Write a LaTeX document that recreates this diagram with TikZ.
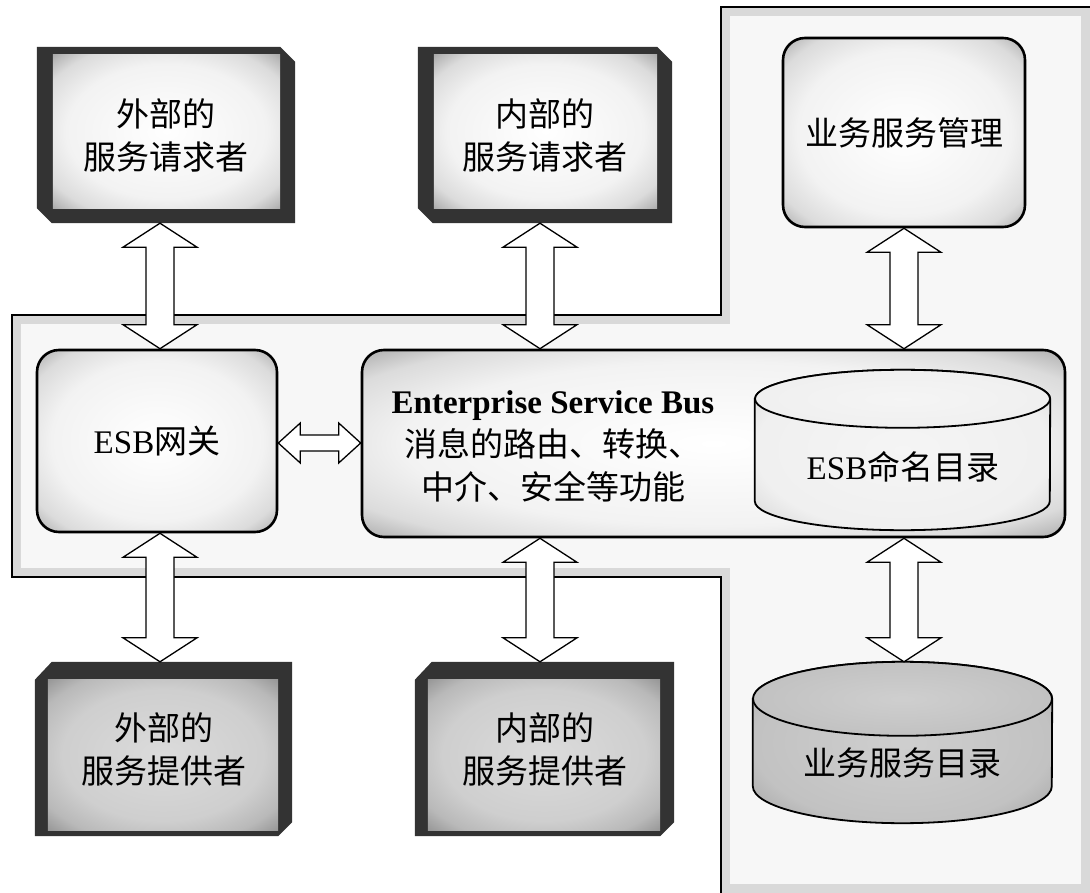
\documentclass[tikz,border=0pt]{standalone}
\usepackage{fontspec}
\setmainfont{Liberation Serif}
\newfontfamily\cjk{Noto Sans CJK SC}
\usetikzlibrary{calc,backgrounds}
\pgfdeclareradialshading{rimlight}{\pgfpoint{0bp}{0bp}}{color(0bp)=(white); color(22bp)=(gray!10); color(30bp)=(gray!28); color(34bp)=(gray!55); color(37bp)=(gray!80); color(50bp)=(gray!90)}
\pgfdeclareradialshading{rimmid}{\pgfpoint{0bp}{0bp}}{color(0bp)=(gray!28); color(22bp)=(gray!38); color(30bp)=(gray!55); color(34bp)=(gray!75); color(37bp)=(gray!90); color(50bp)=(gray!95)}
\pgfdeclareradialshading{cyllight}{\pgfpoint{0bp}{0bp}}{color(0bp)=(gray!8); color(25bp)=(gray!12); color(36bp)=(gray!35); color(50bp)=(gray!40)}
\pgfdeclareradialshading{cyldark}{\pgfpoint{0bp}{0bp}}{color(0bp)=(gray!38); color(25bp)=(gray!48); color(36bp)=(gray!75); color(50bp)=(gray!80)}
\tikzset{
  x=1pt, y=-1pt,
  txt/.style={font=\cjk\fontsize{33pt}{43pt}\selectfont, align=center, inner sep=0pt},
  boxarea/.style={txt, minimum width=#1},
  rbox/.style={txt, draw, line width=2.6pt, rounded corners=22pt, shade, shading=rimlight},
  bevelc/.style={fill=black!80},
  facelight/.style={shade, shading=rimlight},
  facemid/.style={shade, shading=rimmid},
  blockarrow/.style={draw=black, fill=white, line width=1.3pt, line join=miter},
  regionline/.style={draw=black, line width=2.6pt},
  cylline/.style={draw=black, line width=1.8pt}
}
\newcommand\vblock[3]{%
  \path[blockarrow] let \p1=(#2.south), \p2=(#3.north) in
    ({#1},{\y1}) -- ({#1+37pt},{\y1-24pt}) -- ({#1+14pt},{\y1-24pt}) --
    ({#1+14pt},{\y2+24pt}) -- ({#1+37pt},{\y2+24pt}) -- ({#1},{\y2}) --
    ({#1-37pt},{\y2+24pt}) -- ({#1-14pt},{\y2+24pt}) --
    ({#1-14pt},{\y1-24pt}) -- ({#1-37pt},{\y1-24pt}) -- cycle;}
\newcommand\hblock[3]{%
  \path[blockarrow] let \p1=(#2.east), \p2=(#3.west) in
    ({\x1},{#1}) -- ({\x1+22pt},{#1+20pt}) -- ({\x1+22pt},{#1+8pt}) --
    ({\x2-22pt},{#1+8pt}) -- ({\x2-22pt},{#1+20pt}) -- ({\x2},{#1}) --
    ({\x2-22pt},{#1-20pt}) -- ({\x2-22pt},{#1-8pt}) --
    ({\x1+22pt},{#1-8pt}) -- ({\x1+22pt},{#1-20pt}) -- cycle;}
\newcommand\reqbevel[1]{%
  \fill[bevelc] (#1.north west) -- ([xshift=-15pt]#1.north east) -- ([yshift=-15pt]#1.north east)
    -- (#1.south east) -- ([xshift=15pt]#1.south west) -- ([yshift=15pt]#1.south west) -- cycle;
  \path[facelight] ([xshift=16pt,yshift=-8pt]#1.north west) rectangle ([xshift=-15pt,yshift=15pt]#1.south east);}
\newcommand\provbevel[1]{%
  \fill[bevelc] ([yshift=-18pt]#1.north west) -- ([xshift=17pt]#1.north west) -- (#1.north east)
    -- ([yshift=14pt]#1.south east) -- ([xshift=-14pt]#1.south east) -- (#1.south west) -- cycle;
  \path[facemid] ([xshift=13pt,yshift=-18pt]#1.north west) rectangle ([xshift=-14pt,yshift=6pt]#1.south east);}
\newcommand\cyl[4]{% name, rx, ry, shading
  \path[cylline, shade, shading=#4] ([yshift=-#3]#1.north west) -- ([yshift=#3]#1.south west)
    arc[start angle=180, end angle=360, x radius=#2, y radius=#3]
    -- ([yshift=-#3]#1.north east)
    arc[start angle=0, end angle=180, x radius=#2, y radius=#3] -- cycle;
  \path[cylline, shade, shading=#4] ([yshift=-#3]#1.north) ellipse[x radius=#2, y radius=#3];}
\begin{document}
\begin{tikzpicture}
\useasboundingbox (0,0) rectangle (1090,893);
% shaded region behind everything
\begin{scope}[on background layer]
  \path[fill=gray!6] (12,315) -- (721,315) -- (721,7) -- (1090,7) -- (1090,893) -- (721,893) -- (721,577) -- (12,577) -- cycle;
  \begin{scope}
    \clip (12,315) -- (721,315) -- (721,7) -- (1090,7) -- (1090,893) -- (721,893) -- (721,577) -- (12,577) -- cycle;
    \draw[gray!30, line width=18pt] (12,315) -- (721,315) -- (721,7) -- (1090,7) -- (1090,893) -- (721,893) -- (721,577) -- (12,577) -- cycle;
  \end{scope}
  \path[regionline] (721,893) -- (721,577) -- (12,577) -- (12,315) -- (721,315) -- (721,7) -- (1090,7);
\end{scope}

% nodes
\node[boxarea=258pt, minimum height=176pt] (req1) at (166,135) {外部的\\服务请求者};
\node[boxarea=254pt, minimum height=176pt] (req2) at (545,135) {内部的\\服务请求者};
\node[rbox, minimum width=242pt, minimum height=189pt] (mgmt) at (904,132.5) {业务服务管理};
\node[rbox, minimum width=240pt, minimum height=182pt] (gw) at (157,441) {{\rmfamily ESB}网关};
\node[rbox, minimum width=703pt, minimum height=187pt] (bus) at (713.5,443.5) {};
\node[txt] (bustext) at (553,446) {{\rmfamily\bfseries Enterprise Service Bus}\\消息的路由、转换、\\中介、安全等功能};
\node[boxarea=295pt, minimum height=160pt] (esbdir) at (902.5,450) {};
\cyl{esbdir}{147.5pt}{29pt}{cyllight}
\node[txt] (esbdirtext) at (903,467) {{\rmfamily ESB}命名目录};
\node[boxarea=257pt, minimum height=174pt] (prov1) at (163.5,749) {外部的\\服务提供者};
\node[boxarea=259pt, minimum height=174pt] (prov2) at (544.5,749) {内部的\\服务提供者};
\node[boxarea=299pt, minimum height=161pt] (svcdir) at (902.5,742.5) {};
\cyl{svcdir}{149.5pt}{37pt}{cyldark}
\node[txt] (svcdirtext) at (902,763) {业务服务目录};

\begin{scope}[on background layer]
  \reqbevel{req1}
  \reqbevel{req2}
  \provbevel{prov1}
  \provbevel{prov2}
\end{scope}

% connectors
\vblock{160pt}{req1}{gw}
\vblock{540pt}{req2}{bus}
\vblock{904pt}{mgmt}{bus}
\hblock{-443pt}{gw}{bus}
\vblock{160pt}{gw}{prov1}
\vblock{540pt}{bus}{prov2}
\vblock{904pt}{bus}{svcdir}
\end{tikzpicture}
\end{document}
